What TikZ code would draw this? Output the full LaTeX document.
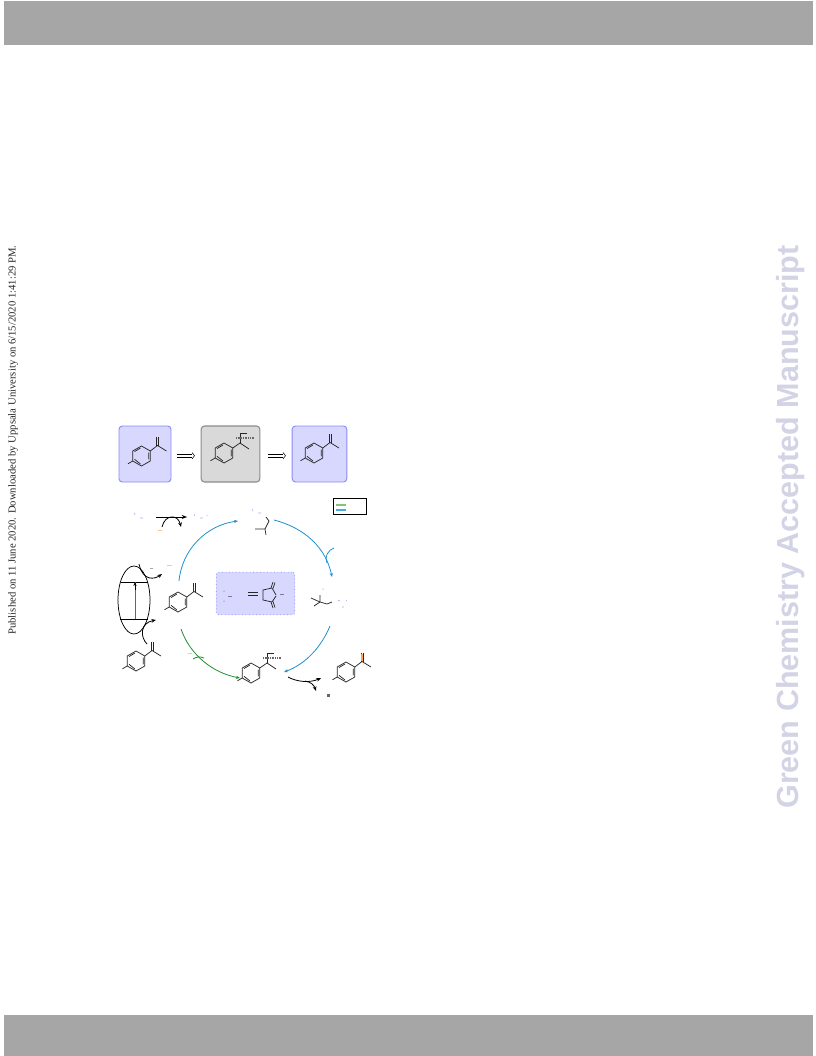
\documentclass[tikz,border=0pt]{standalone}
\usepackage{fontspec}
\setmainfont{Liberation Serif}
\setsansfont{Liberation Sans}
\usetikzlibrary{arrows.meta,shapes.geometric}
\definecolor{banner}{HTML}{A6A6A6}
\definecolor{wm}{HTML}{D3D3E6}
\definecolor{lilac}{HTML}{D8D8FF}
\definecolor{lilacedge}{HTML}{8A8AF5}
\definecolor{greybox}{HTML}{D9D9D9}
\definecolor{greyedge}{HTML}{8C8C8C}
\definecolor{cycleblue}{HTML}{1F8FCF}
\definecolor{cyclegreen}{HTML}{1E8F2E}
\definecolor{legendgreen}{HTML}{7CC47F}
\definecolor{legendblue}{HTML}{45ABE0}
\definecolor{faintblue}{HTML}{AAAAF0}
\definecolor{faintorange}{HTML}{F5C99A}
\tikzset{
  bond/.style={line width=0.55pt,black!85},
  panel/.style={draw=lilacedge,fill=lilac,rounded corners=2.5pt,line width=0.7pt,minimum height=42pt,inner sep=0pt},
  greypanel/.style={draw=greyedge,fill=greybox,rounded corners=2.5pt,line width=0.8pt,minimum height=42pt,inner sep=0pt},
  retro/.style={line width=0.4pt,black},
  bluearc/.style={draw=cycleblue,line width=0.6pt,-{Stealth[length=3pt,width=2.4pt]}},
  greenarc/.style={draw=cyclegreen,line width=0.6pt,-{Stealth[length=3pt,width=2.4pt]}},
  curly/.style={line width=0.6pt,black,-{Stealth[length=3.5pt,width=2.8pt]}},
  tick/.style={line width=0.5pt,faintblue},
  otick/.style={line width=0.5pt,faintorange},
}
\newcommand{\arylring}{%
  \draw[bond] (8.8,-5)--(0,-10)--(-8.8,-5)--(-8.8,5)--(0,10)--(8.8,5)--cycle;
  \draw[bond] (-1,-8)--(-7,-4.4) (-7,3.3)--(-1,8) (7.2,-3.3)--(7.2,3.3);
  \draw[bond] (-8.8,5)--(-13.5,7.8);
}
\newcommand{\ketone}[1]{%
  \begin{scope}[shift={#1}]
    \arylring
    \draw[bond] (8.8,-5)--(16,-10.5)--(25,-5);
    \draw[bond] (15.3,-10.5)--(15.3,-19) (16.9,-10.5)--(16.9,-19);
  \end{scope}}
\newcommand{\hemi}[1]{%
  \begin{scope}[shift={#1}]
    \arylring
    \draw[bond] (8.8,-5)--(16,-10)--(25,-4);
    \draw[bond] (16,-10)--(16,-20)--(23,-20);
    \draw[line width=1pt,black!60,dash pattern=on 0.8pt off 0.5pt] (12,-15)--(31,-15);
  \end{scope}}
\begin{document}
\begin{tikzpicture}[x=0.75pt,y=-0.75pt]
\useasboundingbox (0,0) rectangle (816,1056);
% banners
\fill[banner] (4,1) rectangle (813,45);
\fill[banner] (4,1015) rectangle (813,1056);
% margin texts
\node[rotate=90,font=\fontsize{8pt}{10pt}\selectfont,text=black!85,inner sep=0pt] (stamp) at (13,440) {Published on 11 June 2020. Downloaded by Uppsala University on 6/15/2020 1:41:29 PM.};
\node[rotate=90,font=\fontsize{22.9pt}{28pt}\selectfont\sffamily\bfseries,text=wm,inner sep=0pt] (mark) at (791,527) {Green Chemistry Accepted Manuscript};
% top panels
\node[panel,minimum width=39pt] (p1) at (145,454) {};
\node[greypanel,minimum width=44pt] (p2) at (230.5,454) {};
\node[panel,minimum width=41pt] (p3) at (319.5,454) {};
\ketone{(141.5,456)}
\hemi{(224,453)}
\ketone{(314,453)}
\draw[retro] (177,454.5)--(192,454.5) (177,457)--(192,457);
\draw[retro] (192,452.5)--(194.5,455.7)--(192,459);
\draw[retro] (268,454.5)--(283,454.5) (268,457)--(283,457);
\draw[retro] (283,452.5)--(285.5,455.7)--(283,459);
% legend
\node[draw=black,line width=0.6pt,minimum width=25pt,minimum height=12.5pt,inner sep=0pt] (legend) at (350,506.5) {};
\draw[legendgreen,line width=1.1pt] (336,505)--(346,505);
\draw[legendblue,line width=0.8pt] (336,510)--(346,510);
% centre box
\node[draw=lilacedge,fill=lilac,dotted,rounded corners=2pt,line width=0.6pt,minimum width=59pt,minimum height=32pt,inner sep=0pt] (core) at (255.5,593.5) {};
\draw[bond,line width=0.8pt] (248,592.5)--(258,592.5) (248,595.5)--(258,595.5);
\draw[bond] (272,588)--(263,590)--(263,600)--(272,602);
\draw[bond] (272,588)--(276,595) (272,602)--(276,596);
\draw[bond] (271,588)--(273,582) (273,588.5)--(275,582.5);
\draw[bond] (271,602)--(273,608) (273,601.5)--(275,607.5);
\draw[faintblue!70!black,line width=0.5pt] (280,594.5)--(284,594.5) (228,596)--(232,596);
\fill[black!70] (224,591) circle (0.5) (224,601) circle (0.5);
% cycle arcs
\coordinate (a1s) at (179,581); \coordinate (a1e) at (238,521);
\coordinate (a2s) at (274,520); \coordinate (a2e) at (332,577);
\coordinate (a3s) at (330,626); \coordinate (a3e) at (284,672);
\coordinate (a4s) at (181,629); \coordinate (a4e) at (240,678);
\draw[bluearc] (a1s) .. controls (182,549) and (207,525) .. (a1e);
\draw[bluearc] (a2s) .. controls (305,528) and (326,548) .. (a2e);
\draw[bluearc] (a3s) .. controls (320,650) and (303,665) .. (a3e);
\draw[greenarc] (a4s) .. controls (190,655) and (213,673) .. (a4e);
% side arrows on arcs
\coordinate (s1a) at (334,548); \coordinate (s1b) at (327,563);
\draw[cycleblue,line width=0.6pt] (s1a) .. controls (328,550) and (324,557) .. (s1b);
\coordinate (s2a) at (193,659); \coordinate (s2b) at (204,658);
\draw[cyclegreen,line width=0.6pt] (s2a) .. controls (196,657) and (200,656) .. (s2b);
% photocatalyst ellipse
\node[draw=black,line width=0.55pt,ellipse,minimum width=24pt,minimum height=51pt,inner sep=0pt,fill=white] (pc) at (134,600) {};
\coordinate (lumo) at (135,582); \coordinate (homo) at (135,619);
\draw[line width=0.6pt,black] (121,582)--(148,582);
\draw[line width=0.6pt,black] (120,619)--(148,619);
\draw[black!60,line width=0.4pt] (homo)--(lumo);
\draw[black,line width=0.4pt,-{Stealth[length=3pt,width=2.4pt]}] (135,590)--(lumo);
\coordinate (c1a) at (139,564); \coordinate (c1b) at (162,574);
\draw[curly] (c1a) .. controls (143,582) and (155,579) .. (c1b);
\coordinate (c2a) at (147,644); \coordinate (c2b) at (156,620);
\draw[curly] (c2a) .. controls (140,637) and (140,623) .. (c2b);
% top reagent arrow
\coordinate (t1) at (156,517); \coordinate (t2) at (187,517);
\draw[line width=0.5pt,black,-{Stealth[length=4pt,width=3pt]}] (t1)--(t2);
\coordinate (t3) at (162,527); \coordinate (t4) at (181,527);
\draw[curly] (t3) .. controls (165,514) and (178,514) .. (t4);
% bottom arrows
\coordinate (b1) at (288,677); \coordinate (b2) at (321,678); \coordinate (b3) at (305,681); \coordinate (b4) at (316,691);
\draw[curly] (b1) .. controls (297,682) and (310,683) .. (b2);
\draw[curly] (b3) .. controls (311,682) and (314,685) .. (b4);
\fill[black!60] (326.5,693.5) rectangle (329.5,696.5);
% cycle molecules
\ketone{(178,602)}
\ketone{(136,661)}
\draw[cyclegreen!50!black,line width=0.7pt] (193.2,586)--(193.2,592);
\hemi{(251,673)}
\ketone{(346,672)}
\draw[orange!70,line width=0.8pt] (361.3,654)--(361.3,661) (362.9,654)--(362.9,661);
% top radical
\draw[bond] (266,517)--(269,521)--(265,529)--(255,529) (265,529)--(266,535);
% right radical
\draw[bond] (311,598)--(320,602)--(327,604)--(332,602) (320,595)--(320,602)--(314,606);
\fill[black!60] (323,589) circle (0.5);
% faint marks
\draw[tick] (134,513)--(135,515) (140,518)--(143,518) (194,514)--(195,516) (200,518)--(203,518) (207,515)--(207,516);
\draw[tick] (252,509)--(253,511) (258,513)--(261,513);
\draw[tick] (338,600)--(340,601) (347,600)--(346,601) (343,606)--(343,608);
\draw[otick] (158,530)--(162,530) (167,565)--(172,565) (188,653)--(192,653);
\draw[black!35,line width=0.4pt] (150,568)--(153,568);
\end{tikzpicture}
\end{document}
